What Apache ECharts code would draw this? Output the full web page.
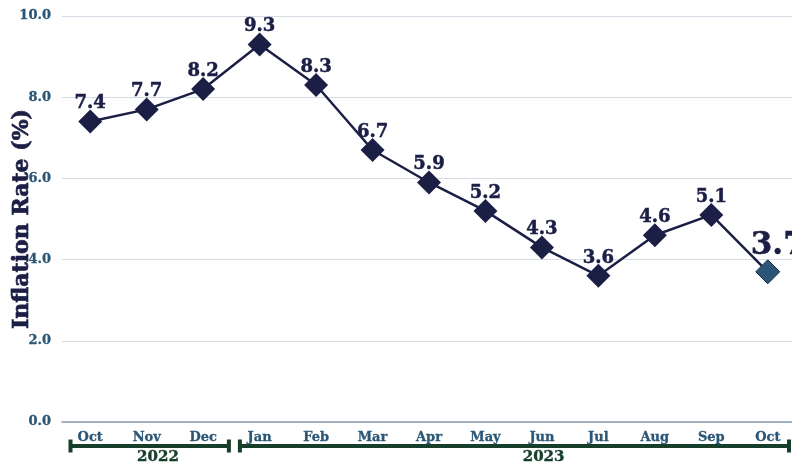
<!DOCTYPE html>
<html><head><meta charset="utf-8">
<script src="https://cdn.jsdelivr.net/npm/echarts@6/dist/echarts.min.js"></script>
<style>html,body{margin:0;padding:0;background:#fff}#c{width:792px;height:464px}</style></head>
<body><div id="c"></div>
<script>
const months = ['Oct','Nov','Dec','Jan','Feb','Mar','Apr','May','Jun','Jul','Aug','Sep','Oct'];
const inflation = [7.4, 7.7, 8.2, 9.3, 8.3, 6.7, 5.9, 5.2, 4.3, 3.6, 4.6, 5.1, 3.7];
const yearLabels = ['2022', '2023'];
const yearStart = [0, 3];
const yearEnd = [2, 12];

const FONT = 'DejaVu Serif';
const NAVY = '#1c1f45';
const STEEL = '#2b5676';
const GREEN = '#173d2b';

const chart = echarts.init(document.getElementById('c'));
const lastIdx = inflation.length - 1;
const seriesData = inflation.map((v, i) => {
  if (i === lastIdx) {
    return {
      value: v,
      itemStyle: { color: '#2a5478', borderColor: '#1c2a45', borderWidth: 1 },
      label: { fontSize: 31, offset: [10, -1] }
    };
  }
  return v;
});

chart.setOption({
  animation: false,
  grid: { left: 62, right: -4, top: 16, bottom: 42, containLabel: false, outerBoundsMode: 'none' },
  xAxis: {
    type: 'category',
    data: months,
    boundaryGap: true,
    axisLine: { show: true, lineStyle: { color: '#8aa0b4', width: 1.5 } },
    axisTick: { show: false },
    axisLabel: { color: STEEL, fontFamily: FONT, fontWeight: 'bold', fontSize: 13, margin: 9, interval: 0,
      textBorderColor: STEEL, textBorderWidth: 0.3 }
  },
  yAxis: {
    type: 'value',
    min: 0, max: 10, interval: 2,
    name: 'Inflation Rate (%)',
    nameLocation: 'middle',
    nameGap: 29,
    nameMoveOverlap: false,
    nameTextStyle: { color: NAVY, fontFamily: FONT, fontWeight: 'bold', fontSize: 22,
      textBorderColor: NAVY, textBorderWidth: 0.7 },
    axisLine: { show: false },
    axisTick: { show: false },
    axisLabel: { color: STEEL, fontFamily: FONT, fontWeight: 'bold', fontSize: 13, margin: 11,
      textBorderColor: STEEL, textBorderWidth: 0.3,
      formatter: v => v.toFixed(1) },
    splitLine: { lineStyle: { color: '#d3dce4', width: 1.2 } }
  },
  series: [{
    type: 'line',
    data: seriesData,
    lineStyle: { color: NAVY, width: 2.5 },
    symbol: 'diamond',
    symbolSize: 24,
    itemStyle: { color: NAVY },
    label: {
      show: true, position: 'top', distance: -3,
      color: NAVY, fontFamily: FONT, fontWeight: 'bold', fontSize: 18,
      textBorderColor: NAVY, textBorderWidth: 0.5,
      formatter: p => p.value.toFixed(1)
    },
    z: 3
  }]
});

// Year brackets below the axis, positioned from the category scale
const W = 792;
const px = i => chart.convertToPixel({ xAxisIndex: 0 }, i);
const band = px(1) - px(0);
const at = f => px(0) + f * band;
const labelAt = [1.2, 8.03];
const graphics = [];
const yLine = 446;
yearLabels.forEach((lab, k) => {
  const x1 = px(yearStart[k]) - band / 2 + 8.5;
  const x2 = Math.min(px(yearEnd[k]) + band / 2 - 2.5, W - 3);
  graphics.push({ type: 'line', shape: { x1: x1, y1: yLine, x2: x2, y2: yLine }, style: { stroke: GREEN, lineWidth: 4 } });
  graphics.push({ type: 'line', shape: { x1: x1, y1: yLine - 6.5, x2: x1, y2: yLine + 6.5 }, style: { stroke: GREEN, lineWidth: 4 } });
  graphics.push({ type: 'line', shape: { x1: x2, y1: yLine - 6.5, x2: x2, y2: yLine + 6.5 }, style: { stroke: GREEN, lineWidth: 4 } });
  graphics.push({ type: 'text', x: at(labelAt[k]), y: 457,
    style: { text: lab, fill: GREEN, font: 'bold 15px "' + FONT + '"', textAlign: 'center', textVerticalAlign: 'middle',
      stroke: GREEN, lineWidth: 0.4 } });
});
chart.setOption({ graphic: graphics });
</script>
</body></html>
